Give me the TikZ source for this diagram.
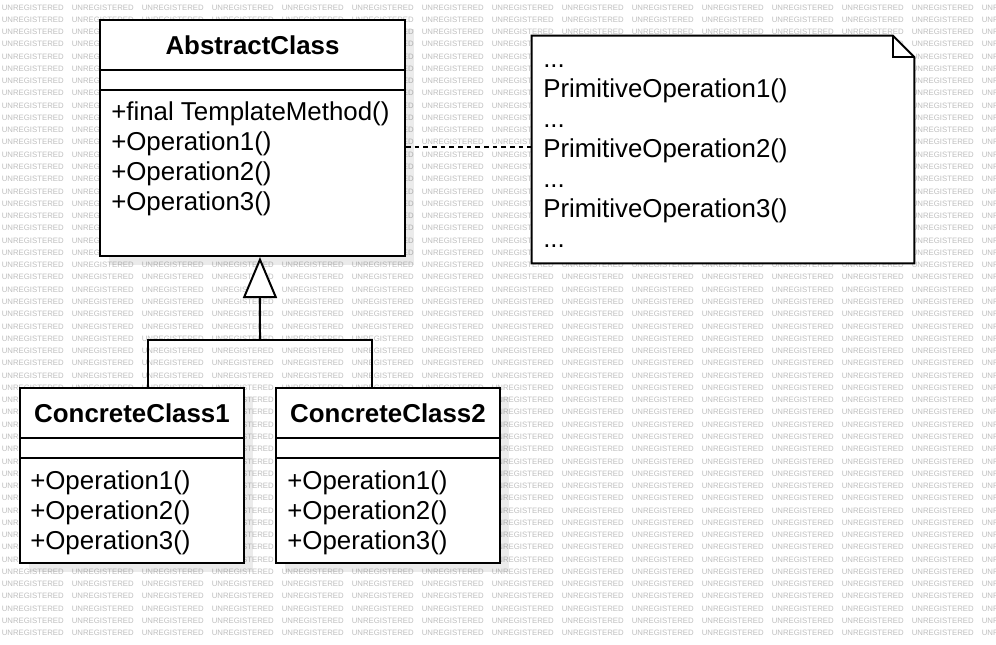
\documentclass[tikz,border=0pt]{standalone}
\usepackage{fontspec}
\setmainfont{Liberation Sans}
\usetikzlibrary{arrows.meta,shadows}

\begin{document}
\begin{tikzpicture}[x=0.75pt,y=-0.75pt,
  classbox/.style={draw, line width=1.5pt, fill=white, inner sep=0pt,
    drop shadow={shadow xshift=7pt, shadow yshift=-7pt, fill=black, opacity=0.08}},
  classname/.style={font=\bfseries\fontsize{19.4}{22.5}\selectfont, anchor=base, inner sep=0pt},
  optext/.style={font=\fontsize{19.4}{22.5}\selectfont, anchor=base west, inner sep=0pt},
  wmtext/.style={font=\fontsize{5.85}{7}\selectfont, text=black!25, anchor=base west, inner sep=0pt},
  rule/.style={line width=1.5pt}]
\useasboundingbox (0,0) rectangle (996,644);
\fill[white] (0,0) rectangle (996,644);
\begin{scope}
\clip (0,0) rectangle (996,644);
\foreach \r in {0,...,51}
  \foreach \c in {0,...,14}
    \node[wmtext] (wm\r-\c) at (1.5+70*\c,10+12.27*\r) {UNREGISTERED};
\end{scope}

\node[classbox, minimum width=228.75pt, minimum height=177pt] (abs) at (252.5,138) {};
\node[classbox, minimum width=168pt, minimum height=131.25pt] (cc1) at (132,475.5) {};
\node[classbox, minimum width=168pt, minimum height=131.25pt] (cc2) at (388,475.5) {};
\node[inner sep=0pt, minimum width=286.5pt, minimum height=170.25pt] (note) at (723,149.5) {};

\draw[rule] (abs.west |- 0,70) -- (abs.east |- 0,70);
\draw[rule] (abs.west |- 0,90) -- (abs.east |- 0,90);
\foreach \c in {cc1,cc2} {
  \draw[rule] (\c.west |- 0,438) -- (\c.east |- 0,438);
  \draw[rule] (\c.west |- 0,458) -- (\c.east |- 0,458);
}
\filldraw[rule, fill=white, line join=miter] (note.north west) -- ([xshift=-16pt]note.north east)
  -- ([yshift=-16pt]note.north east) -- (note.south east) -- (note.south west) -- cycle;
\draw[rule] ([xshift=-16pt]note.north east) |- ([yshift=-16pt]note.north east);

\node[classname] (absname) at (252.5,54) {AbstractClass};
\node[classname] (cc1name) at (132,422) {ConcreteClass1};
\node[classname] (cc2name) at (388,422) {ConcreteClass2};

\node[optext] (absop0) at (111,120) {+final TemplateMethod()};
\foreach \i in {1,2,3}
  \node[optext] (absop\i) at (111,120+30*\i) {+Operation\i()};
\foreach \c/\x in {cc1/30,cc2/287}
  \foreach \i in {1,2,3}
    \node[optext] (\c op\i) at (\x,459+30*\i) {+Operation\i()};

\foreach \i in {1,...,4}
  \node[optext] (dots\i) at (543,7+60*\i) {...};
\foreach \i in {1,2,3}
  \node[optext] (prim\i) at (543,37+60*\i) {PrimitiveOperation\i()};

\draw[line width=1.2pt, dash pattern=on 3.5pt off 3pt] (abs.east |- 0,147) -- (note.west |- 0,147);

\coordinate (fork) at (260,340);
\draw[rule, -{Triangle[open, length=30.75pt, width=25.5pt, fill=white]}] (fork) -- ([xshift=5.6pt]abs.south);
\draw[rule] (fork) -| ([xshift=12pt]cc1.north);
\draw[rule] (fork) -| ([xshift=-12pt]cc2.north);
\end{tikzpicture}
\end{document}
